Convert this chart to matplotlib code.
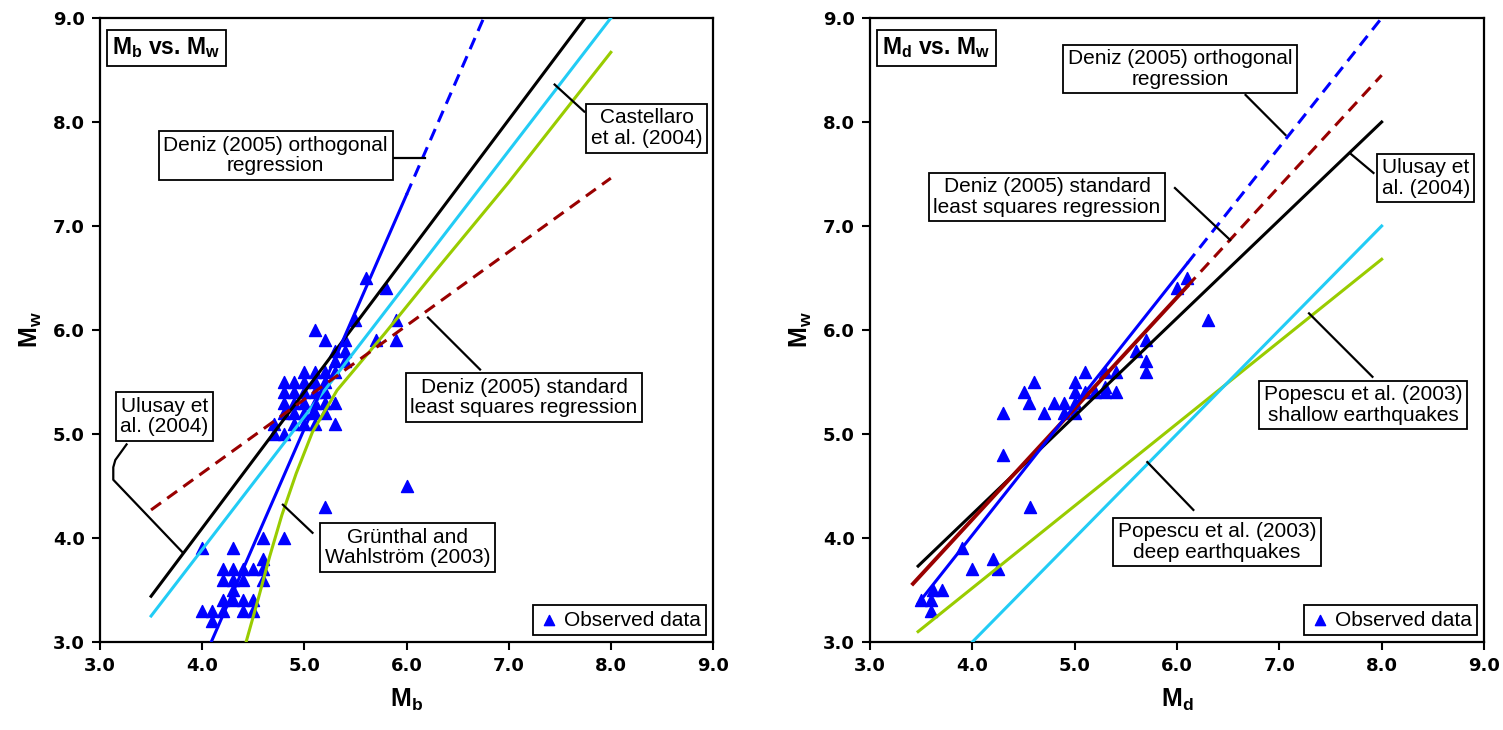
import numpy as np
import matplotlib.pyplot as plt

plt.rcParams['font.family'] = ['Liberation Sans', 'DejaVu Sans']
plt.rcParams['mathtext.fontset'] = 'custom'
plt.rcParams['mathtext.rm'] = 'Liberation Sans'
plt.rcParams['mathtext.bf'] = 'Liberation Sans:bold'

# ---- left panel: Mb vs Mw ----
mb_obs = [4.0, 4.3, 4.6, 4.8,
          4.2, 4.3, 4.4, 4.5, 4.6, 4.6,
          4.2, 4.3, 4.4, 4.6,
          4.3,
          4.2, 4.3, 4.4, 4.5,
          4.0, 4.1, 4.2, 4.4, 4.5, 4.1,
          4.8, 4.9, 5.0, 5.1, 5.2,
          4.8, 4.9, 5.0, 5.1, 5.2,
          4.8, 4.9, 5.0, 5.1, 5.2,
          4.8, 4.9, 5.0, 5.1, 5.2,
          5.0, 5.1, 4.7, 4.8, 4.7, 4.9, 5.0, 5.1, 5.3,
          5.2, 5.3, 5.3, 5.4, 5.4, 5.3,
          5.1, 5.2, 5.4, 5.5, 5.6, 5.8, 5.7, 5.9, 5.9, 5.3,
          5.2, 6.0]
mw_obs_b = [3.9, 3.9, 4.0, 4.0,
            3.7, 3.7, 3.7, 3.7, 3.8, 3.7,
            3.6, 3.6, 3.6, 3.6,
            3.5,
            3.4, 3.4, 3.4, 3.4,
            3.3, 3.3, 3.3, 3.3, 3.3, 3.2,
            5.2, 5.2, 5.2, 5.2, 5.2,
            5.3, 5.3, 5.3, 5.3, 5.3,
            5.4, 5.4, 5.4, 5.4, 5.4,
            5.5, 5.5, 5.5, 5.5, 5.5,
            5.6, 5.6, 5.0, 5.0, 5.1, 5.1, 5.1, 5.1, 5.1,
            5.6, 5.6, 5.7, 5.7, 5.8, 5.8,
            6.0, 5.9, 5.9, 6.1, 6.5, 6.4, 5.9, 6.1, 5.9, 5.3,
            4.3, 4.5]

mb_ulusay = [3.5, 8.0]
mw_ulusay_b = [3.44, 9.33]
mb_castellaro = [3.5, 8.0]
mw_castellaro = [3.25, 9.0]
mb_gruenthal = [4.43, 4.55, 4.66, 4.78, 4.92, 5.08, 5.32, 5.79, 6.26, 7.0, 8.0]
mw_gruenthal = [3.0, 3.42, 3.82, 4.22, 4.62, 5.02, 5.42, 5.97, 6.54, 7.42, 8.67]
mb_orth_fit = [4.0, 6.0]
mw_orth_fit_b = [2.8, 7.3]
mb_orth_ext = [6.0, 6.8]
mw_orth_ext_b = [7.3, 9.1]
mb_sls = [3.5, 8.0]
mw_sls_b = [4.27, 7.46]

# ---- right panel: Md vs Mw ----
md_obs = [3.5, 3.6, 3.6, 3.62, 3.7, 3.9, 4.0, 4.2, 4.25,
          4.3, 4.3, 4.5, 4.55, 4.6, 4.56,
          4.7, 4.8, 4.9, 4.9, 5.0, 5.0, 5.0, 5.0,
          5.1, 5.1, 5.2, 5.3, 5.3, 5.3, 5.4, 5.4,
          5.6, 5.7, 5.7, 5.7, 6.0, 6.1, 6.3]
mw_obs_d = [3.4, 3.4, 3.3, 3.5, 3.5, 3.9, 3.7, 3.8, 3.7,
            4.8, 5.2, 5.4, 5.3, 5.5, 4.3,
            5.2, 5.3, 5.3, 5.2, 5.5, 5.4, 5.3, 5.2,
            5.6, 5.4, 5.4, 5.6, 5.45, 5.4, 5.6, 5.4,
            5.8, 5.9, 5.7, 5.6, 6.4, 6.5, 6.1]

md_ulusay = [3.47, 8.0]
mw_ulusay_d = [3.73, 8.0]
md_pop_shallow = [3.47, 8.0]
mw_pop_shallow = [3.10, 6.68]
md_pop_deep = [3.5, 8.0]
mw_pop_deep = [2.5, 7.0]
md_orth_fit = [3.47, 6.1]
mw_orth_fit_d = [3.37, 6.64]
md_orth_ext = [6.1, 8.0]
mw_orth_ext_d = [6.64, 9.0]
md_sls_fit = [3.42, 6.1]
mw_sls_fit_d = [3.56, 6.42]
md_sls_ext = [6.1, 8.0]
mw_sls_ext_d = [6.42, 8.45]

ticks = [3.0, 4.0, 5.0, 6.0, 7.0, 8.0, 9.0]
tick_labels = ['3.0', '4.0', '5.0', '6.0', '7.0', '8.0', '9.0']

BLUE = '#0000ff'
RED = '#990000'
CYAN = '#22ccf5'
GREEN = '#99cc00'
LW = 2.2
DASH = (4, 2.5)

fig = plt.figure(figsize=(15.03, 7.30), dpi=100)
ax1 = fig.add_axes([100 / 1503, 1 - 642 / 730, 613 / 1503, 624 / 730])
ax2 = fig.add_axes([870 / 1503, 1 - 642 / 730, 614 / 1503, 624 / 730])


def setup(ax, xlab):
    ax.set_xlim(3, 9)
    ax.set_ylim(3, 9)
    ax.set_xticks(ticks)
    ax.set_yticks(ticks)
    ax.set_xticklabels(tick_labels, fontsize=13, fontweight='bold', family='DejaVu Sans')
    ax.set_yticklabels(tick_labels, fontsize=13, fontweight='bold', family='DejaVu Sans')
    ax.tick_params(direction='out', length=6, width=1.5, pad=5)
    for s in ax.spines.values():
        s.set_linewidth(1.6)
    ax.set_xlabel(xlab, fontsize=18, labelpad=8)
    ax.set_ylabel(r'$\mathbf{M_w}$', fontsize=18, labelpad=6)


def note(ax, x, y, txt, px, py):
    ax.plot(px, py, color='black', lw=1.6, zorder=4)
    ax.text(x, y, txt, ha='center', va='center', fontsize=15, zorder=6,
            linespacing=1.1,
            bbox=dict(boxstyle='square,pad=0.22', fc='white', ec='black', lw=1.3))


def title_box(ax, txt):
    ax.text(0.02, 0.972, txt, transform=ax.transAxes, ha='left', va='top',
            fontsize=16.5, fontweight='bold', zorder=6,
            bbox=dict(boxstyle='square,pad=0.25', fc='white', ec='black', lw=1.3))


# left
setup(ax1, r'$\mathbf{M_b}$')
ax1.scatter(mb_obs, mw_obs_b, marker='^', s=75, color=BLUE, zorder=2, label='Observed data')
ax1.plot(mb_ulusay, mw_ulusay_b, color='black', lw=LW, zorder=3)
ax1.plot(mb_castellaro, mw_castellaro, color=CYAN, lw=LW, zorder=3)
ax1.plot(mb_gruenthal, mw_gruenthal, color=GREEN, lw=LW, zorder=3)
ax1.plot(mb_orth_fit, mw_orth_fit_b, color=BLUE, lw=LW, zorder=3)
ax1.plot(mb_orth_ext, mw_orth_ext_b, color=BLUE, lw=LW, dashes=DASH, zorder=3)
ax1.plot(mb_sls, mw_sls_b, color=RED, lw=LW, dashes=DASH, zorder=3)

title_box(ax1, r'$\mathbf{M_b}$ vs. $\mathbf{M_w}$')
note(ax1, 4.72, 7.68, 'Deniz (2005) orthogonal\nregression', [5.86, 6.18], [7.654, 7.654])
note(ax1, 8.35, 7.94, 'Castellaro\net al. (2004)', [7.74, 7.45], [8.10, 8.36])
note(ax1, 7.15, 5.35, 'Deniz (2005) standard\nleast squares regression', [6.72, 6.21], [5.62, 6.12])
note(ax1, 3.63, 5.17, 'Ulusay et\nal. (2004)', [3.26, 3.15, 3.13, 3.13, 3.81],
     [4.90, 4.75, 4.68, 4.56, 3.86])
note(ax1, 6.01, 3.91, 'Grünthal and\nWahlström (2003)', [5.08, 4.79], [4.05, 4.32])

leg_kw = dict(loc='lower right', fontsize=15, frameon=True, fancybox=False,
              edgecolor='black', framealpha=1, borderpad=0.25, handletextpad=0.2,
              handlelength=1.0, borderaxespad=0.35, scatterpoints=1, markerscale=0.85)
leg1 = ax1.legend(**leg_kw)
leg1.get_frame().set_linewidth(1.3)
leg1.set_zorder(7)

# right
setup(ax2, r'$\mathbf{M_d}$')
ax2.scatter(md_obs, mw_obs_d, marker='^', s=75, color=BLUE, zorder=2, label='Observed data')
ax2.plot(md_ulusay, mw_ulusay_d, color='black', lw=LW, zorder=3)
ax2.plot(md_pop_shallow, mw_pop_shallow, color=GREEN, lw=LW, zorder=3)
ax2.plot(md_pop_deep, mw_pop_deep, color=CYAN, lw=LW, zorder=3)
ax2.plot(md_sls_fit, mw_sls_fit_d, color=RED, lw=LW + 0.6, zorder=3)
ax2.plot(md_sls_ext, mw_sls_ext_d, color=RED, lw=LW, dashes=DASH, zorder=3)
ax2.plot(md_orth_fit, mw_orth_fit_d, color=BLUE, lw=LW, zorder=3)
ax2.plot(md_orth_ext, mw_orth_ext_d, color=BLUE, lw=LW, dashes=DASH, zorder=3)

title_box(ax2, r'$\mathbf{M_d}$ vs. $\mathbf{M_w}$')
note(ax2, 6.03, 8.51, 'Deniz (2005) orthogonal\nregression', [6.67, 7.06], [8.26, 7.875])
note(ax2, 4.73, 7.28, 'Deniz (2005) standard\nleast squares regression', [5.98, 6.52], [7.365, 6.865])
note(ax2, 8.43, 7.46, 'Ulusay et\nal. (2004)', [7.92, 7.69], [7.51, 7.70])
note(ax2, 7.82, 5.28, 'Popescu et al. (2003)\nshallow earthquakes', [7.91, 7.29], [5.55, 6.16])
note(ax2, 6.39, 3.96, 'Popescu et al. (2003)\ndeep earthquakes', [6.16, 5.71], [4.27, 4.73])

leg2 = ax2.legend(**leg_kw)
leg2.get_frame().set_linewidth(1.3)
leg2.set_zorder(7)

fig.savefig('out.png', dpi=100)
